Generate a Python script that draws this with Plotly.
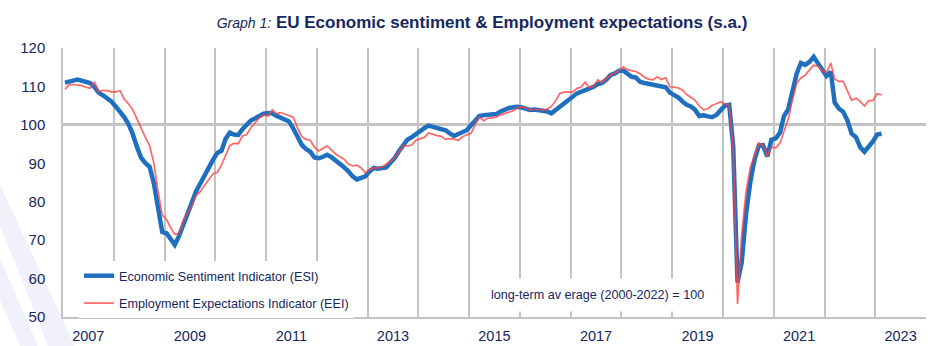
import pandas as pd
import plotly.graph_objects as go

# ---------------- data (monthly, Jan 2007 - Feb 2023) ----------------
start_month = "2007-01-01"
n_months = 194

esi = [
    # 2007
    111.0, 111.2, 111.6, 111.8, 111.5, 111.2, 110.9, 109.8, 108.4, 107.7, 107.0, 106.1,
    # 2008
    104.8, 103.6, 102.1, 100.3, 97.8, 94.4, 91.5, 90.1, 89.1, 84.9, 78.0, 72.1,
    # 2009
    71.8, 70.2, 68.8, 71.1, 73.7, 76.7, 79.7, 82.7, 84.9, 87.0, 88.9, 90.9,
    # 2010
    92.7, 93.3, 96.3, 98.0, 97.5, 97.4, 98.9, 100.1, 101.2, 101.7, 102.3, 102.9,
    # 2011
    103.1, 103.0, 102.4, 101.8, 101.5, 100.9, 99.1, 96.8, 94.8, 93.7, 93.0, 91.5,
    # 2012
    91.3, 91.7, 92.2, 91.6, 90.8, 90.1, 89.0, 87.9, 86.6, 85.8, 86.2, 86.6,
    # 2013
    87.9, 88.8, 88.6, 88.7, 88.9, 90.2, 91.4, 93.2, 95.0, 96.2, 96.8, 97.7,
    # 2014
    98.6, 99.2, 99.8, 99.5, 99.2, 98.9, 98.6, 97.8, 97.1, 97.6, 98.2, 98.6,
    # 2015
    99.9, 101.1, 102.3, 102.5, 102.6, 102.7, 102.8, 103.5, 104.1, 104.4, 104.6, 104.7,
    # 2016
    104.5, 104.1, 103.9, 104.0, 103.9, 103.7, 103.5, 103.0, 103.9, 104.7, 105.6, 106.6,
    # 2017
    107.4, 108.2, 108.6, 109.0, 109.4, 109.9, 110.6, 110.9, 111.8, 113.0, 113.4, 114.1,
    # 2018
    114.1, 113.2, 112.5, 112.3, 111.2, 110.9, 110.7, 110.4, 110.3, 110.1, 109.8, 108.4,
    # 2019
    107.7, 107.1, 106.1, 105.2, 104.8, 103.9, 102.3, 102.5, 102.2, 102.0, 102.6, 103.7,
    # 2020
    105.0, 105.2, 94.4, 59.0, 64.2, 76.7, 84.9, 90.9, 94.6, 94.7, 91.8, 96.1,
    # 2021
    96.5, 98.0, 102.3, 104.1, 108.6, 113.4, 116.1, 115.6, 116.4, 117.7, 116.0, 114.2,
    # 2022
    112.7, 113.8, 105.8, 104.2, 103.4, 101.1, 97.7, 96.8, 94.2, 93.0, 94.2, 95.7,
    # 2023
    97.5, 97.7,
]

eei = [
    # 2007
    109.3, 110.4, 110.5, 110.4, 110.2, 109.8, 109.5, 111.2, 108.6, 109.0, 108.9, 108.6,
    # 2008
    108.6, 108.9, 106.8, 105.5, 104.1, 101.6, 99.1, 96.8, 94.6, 90.1, 82.7, 76.5,
    # 2009
    75.4, 73.1, 71.5, 71.7, 75.0, 77.0, 79.0, 81.6, 82.6, 84.2, 85.7, 87.3,
    # 2010
    87.6, 89.6, 92.0, 94.6, 95.2, 95.1, 97.1, 97.5, 99.3, 100.7, 101.9, 102.6,
    # 2011
    102.3, 103.9, 102.9, 103.2, 102.8, 102.3, 102.0, 99.2, 97.0, 96.2, 96.0, 94.2,
    # 2012
    93.2, 93.9, 94.5, 93.5, 92.4, 91.7, 91.1, 89.8, 89.3, 89.5, 88.8, 87.5,
    # 2013
    88.4, 88.8, 88.8, 88.9, 89.8, 90.5, 91.5, 93.1, 94.6, 94.5, 94.8, 96.0,
    # 2014
    96.4, 96.8, 97.9, 97.5, 97.2, 97.0, 96.2, 96.4, 96.3, 96.0, 96.9, 97.4,
    # 2015
    97.8, 100.2, 102.0, 101.1, 101.7, 101.8, 102.0, 102.6, 103.0, 103.4, 103.7, 104.5,
    # 2016
    104.7, 104.4, 103.9, 104.0, 104.0, 103.8, 104.1, 104.8, 106.3, 108.2, 108.5, 108.5,
    # 2017
    108.5, 109.5, 109.8, 111.1, 109.6, 110.1, 111.7, 111.0, 112.1, 113.1, 113.4, 114.2,
    # 2018
    115.1, 114.3, 114.2, 113.9, 113.3, 112.4, 111.9, 111.7, 112.5, 111.8, 112.3, 109.9,
    # 2019
    109.8, 109.6, 109.1, 107.9, 107.2, 106.4, 104.9, 103.9, 104.2, 105.1, 105.5, 106.0,
    # 2020
    105.5, 105.0, 93.5, 53.4, 71.5, 82.5, 88.8, 92.0, 95.3, 94.6, 91.9, 94.2,
    # 2021
    94.0, 95.3, 98.4, 101.5, 106.5, 110.8, 112.2, 112.9, 114.3, 115.5, 115.3, 114.2,
    # 2022
    113.6, 116.1, 111.9, 111.3, 111.3, 109.0, 106.4, 106.9, 106.1, 104.9, 106.3, 106.3,
    # 2023
    108.1, 107.8,
]

label_years = [2007, 2009, 2011, 2013, 2015, 2017, 2019, 2021, 2023]
grid_years = list(range(2008, 2025))
y_ticks = [50, 60, 70, 80, 90, 100, 110, 120]

months = pd.date_range(start_month, periods=n_months, freq="MS") + pd.Timedelta(days=14)

# ---------------- styling ----------------
W, H = 943, 346
ML, MR, MT, MB = 63, 17, 48, 29
PW, PH = W - ML - MR, H - MT - MB
NAVY = "#15275E"
GRID = "#C3C3C3"
FONT = "Liberation Sans, Arial, sans-serif"


def px_x(px):
    return (px - ML) / PW


def px_y(py):
    return (H - MB - py) / PH


fig = go.Figure()
fig.add_trace(go.Scatter(
    x=months, y=esi, mode="lines", name="Economic Sentiment Indicator (ESI)",
    line=dict(color="#1F6FC1", width=4.5), legendgroup="a",
))
fig.add_trace(go.Scatter(
    x=months, y=eei, mode="lines", name="Employment Expectations Indicator (EEI)",
    line=dict(color="rgba(255,65,65,0.8)", width=1.7), legendgroup="b",
))

# decorative light stripes in the lower-left corner
stripe_col = "rgba(230,232,246,0.6)"
fig.add_shape(type="path", xref="paper", yref="paper", layer="below",
              path=f"M {px_x(0)},{px_y(185)} L {px_x(0)},{px_y(225)} L {px_x(48)},{px_y(346)} "
                   f"L {px_x(75)},{px_y(346)} Z",
              fillcolor=stripe_col, line_width=0)
fig.add_shape(type="path", xref="paper", yref="paper", layer="below",
              path=f"M {px_x(0)},{px_y(258)} L {px_x(0)},{px_y(300)} L {px_x(20)},{px_y(346)} "
                   f"L {px_x(38)},{px_y(346)} Z",
              fillcolor=stripe_col, line_width=0)

fig.update_layout(
    width=W, height=H,
    margin=dict(l=ML, r=MR, t=MT, b=MB, autoexpand=False),
    paper_bgcolor="white", plot_bgcolor="white",
    font=dict(family=FONT, size=13, color=NAVY),
    showlegend=True,
    legend=dict(
        x=px_x(79), y=px_y(261), xanchor="left", yanchor="top",
        bgcolor="white", borderwidth=0, traceorder="grouped", tracegroupgap=8,
        font=dict(family=FONT, size=12.6, color=NAVY),
    ),
    title=dict(
        text="<i><span style='font-size:14px;font-weight:normal'>Graph 1:</span></i> "
             "<b>EU Economic sentiment & Employment expectations (s.a.)</b>",
        x=px_x(482), xref="paper", xanchor="center",
        y=1 - 22 / H, yref="container", yanchor="middle",
        font=dict(family=FONT, size=17, color=NAVY),
    ),
    xaxis=dict(
        type="date", range=["2007-01-01", "2024-01-01"], automargin=False,
        tickvals=[f"{y}-07-02" for y in label_years],
        ticktext=[str(y) for y in label_years],
        showgrid=False, zeroline=False,
        showline=True, linecolor=GRID, linewidth=1.5,
        ticks="outside", ticklen=5, tickcolor="rgba(0,0,0,0)",
        tickfont=dict(family=FONT, size=14.5, color=NAVY),
        minor=dict(tickvals=[f"{y}-01-01" for y in grid_years],
                   showgrid=True, gridcolor=GRID, gridwidth=1.5, ticks=""),
    ),
    yaxis=dict(
        range=[50, 120], tickvals=y_ticks, automargin=False,
        showgrid=False, zeroline=False,
        showline=True, linecolor=GRID, linewidth=1.5,
        ticks="outside", ticklen=13, tickcolor="rgba(0,0,0,0)",
        tickfont=dict(family=FONT, size=15, color=NAVY),
        minor=dict(tickvals=[100], showgrid=True, gridcolor=GRID, gridwidth=2.5, ticks=""),
    ),
    annotations=[dict(
        text="long-term av erage (2000-2022) = 100",
        xref="paper", yref="paper", x=px_x(597), y=px_y(295),
        xanchor="center", yanchor="middle", showarrow=False,
        bgcolor="white", borderpad=9,
        font=dict(family=FONT, size=12.6, color=NAVY),
    )],
)

fig.write_html("out.html")
